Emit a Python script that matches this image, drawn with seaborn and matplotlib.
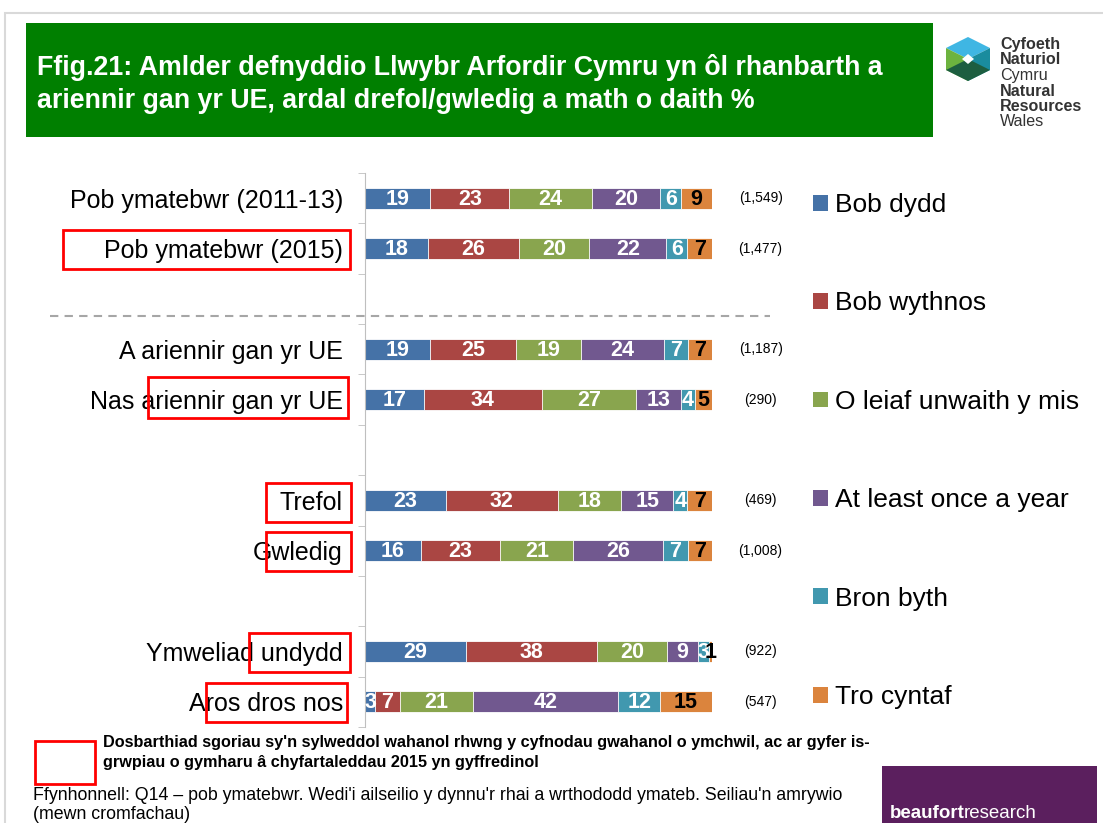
import pandas as pd
import seaborn as sns
import matplotlib.pyplot as plt
from matplotlib.patches import Rectangle, Polygon, Patch
from matplotlib.lines import Line2D

# Data
categories = ["Pob ymatebwr (2011-13)", "Pob ymatebwr (2015)",
              "A ariennir gan yr UE", "Nas ariennir gan yr UE",
              "Trefol", "Gwledig", "Ymweliad undydd", "Aros dros nos"]
series = ["Bob dydd", "Bob wythnos", "O leiaf unwaith y mis",
          "At least once a year", "Bron byth", "Tro cyntaf"]
bob_dydd = [19, 18, 19, 17, 23, 16, 29, 3]
bob_wythnos = [23, 26, 25, 34, 32, 23, 38, 7]
o_leiaf_mis = [24, 20, 19, 27, 18, 21, 20, 21]
once_a_year = [20, 22, 24, 13, 15, 26, 9, 42]
bron_byth = [6, 6, 7, 4, 4, 7, 3, 12]
tro_cyntaf = [9, 7, 7, 5, 7, 7, 1, 15]
bases = ["(1,549)", "(1,477)", "(1,187)", "(290)", "(469)", "(1,008)", "(922)", "(547)"]

colors = ["#4572A7", "#AA4643", "#89A54E", "#71588F", "#4198AF", "#DB843D"]

# slot order with gaps between groups
order = [categories[0], categories[1], " ", categories[2], categories[3], "  ",
         categories[4], categories[5], "   ", categories[6], categories[7]]

values = [bob_dydd, bob_wythnos, o_leiaf_mis, once_a_year, bron_byth, tro_cyntaf]
rows = []
for s, vals in zip(series, values):
    for c, v in zip(categories, vals):
        rows.append({"category": c, "series": s, "value": v})
df = pd.DataFrame(rows)
df["series"] = pd.Categorical(df["series"], series, ordered=True)
df = df.sort_values(["category", "series"])
df["share"] = df["value"] / df.groupby("category")["value"].transform("sum") * 100
df["end"] = df.groupby("category")["share"].cumsum()
df["start"] = df["end"] - df["share"]

plt.rcParams["font.family"] = ["Liberation Sans", "DejaVu Sans"]

W, H = 1103, 823
fig = plt.figure(figsize=(W / 100, H / 100), dpi=100)


def fx(x):
    return x / W


def fy(y):
    return 1 - y / H


ax = fig.add_axes([fx(365), fy(727), fx(712) - fx(365), fy(173) - fy(727)])

# stacked bars: draw cumulative layers from the back
for s, col in reversed(list(zip(series, colors))):
    sub = df[df["series"] == s]
    sns.barplot(data=sub, x="end", y="category", order=order, orient="h",
                color=col, saturation=1, width=0.42, ax=ax,
                edgecolor="white", linewidth=0.6)

# segment labels
for _, r in df.iterrows():
    yi = order.index(r["category"])
    tc = "black" if r["series"] == "Tro cyntaf" else "white"
    ax.text(r["start"] + r["share"] / 2, yi + 0.02, str(r["value"]), ha="center",
            va="center", color=tc, fontsize=15.5, fontweight="bold", clip_on=False)

# base sizes
for c, b in zip(categories, bases):
    ax.text(114, order.index(c), b, ha="center", va="center", fontsize=10,
            clip_on=False)

ax.set_xlim(0, 100)
ax.set_ylim(len(order) - 0.5, -0.5)
ax.set_xlabel("")
ax.set_ylabel("")
ax.xaxis.set_visible(False)
for sp in ["top", "right", "bottom"]:
    ax.spines[sp].set_visible(False)
ax.spines["left"].set_color("#BFBFBF")
ax.tick_params(axis="y", which="major", length=0, pad=16, labelsize=18)
ax.set_yticks(range(len(order)), minor=False)
ax.set_yticks([i - 0.5 for i in range(len(order) + 1)], minor=True)
ax.tick_params(axis="y", which="minor", length=5, color="#BFBFBF")
ax.patch.set_alpha(0)

# dashed separator
fig.add_artist(Line2D([fx(50), fx(770)], [fy(316), fy(316)], color="#A6A6A6",
                      lw=1.5, ls=(0, (4, 3))))

# legend
handles = [Patch(facecolor=c, edgecolor="none") for c in colors]
fig.legend(handles, series, loc="upper left", bbox_to_anchor=(fx(813), fy(193)),
           frameon=False, fontsize=19, labelspacing=2.82, handlelength=0.55,
           handleheight=0.55, handletextpad=0.3, borderpad=0, borderaxespad=0)

# slide border
fig.add_artist(Rectangle((fx(5), fy(830)), 1.0, fy(13) - fy(830), fill=False,
                         edgecolor="#D9D9D9", lw=1.5))

# title box
fig.add_artist(Rectangle((fx(26), fy(137)), fx(933) - fx(26), fy(23) - fy(137),
                         facecolor="#007F00", edgecolor="none"))
fig.text(fx(37), fy(75), "Ffig.21: Amlder defnyddio Llwybr Arfordir Cymru yn ôl rhanbarth a",
         color="white", fontsize=19.3, fontweight="bold", va="baseline")
fig.text(fx(37), fy(108), "ariennir gan yr UE, ardal drefol/gwledig a math o daith %",
         color="white", fontsize=19.3, fontweight="bold", va="baseline")

# NRW logo
pts = {"t": (968, 37), "ur": (990, 48), "lr": (990, 70), "b": (968, 81),
       "ll": (946, 70), "ul": (946, 48), "c": (968, 59)}
faces = [(["t", "ur", "c", "ul"], "#3FB6E3"),
         (["ur", "lr", "b", "c"], "#1A8C9E"),
         (["ul", "c", "b", "ll"], "#6DB33F"),
         (["c", "lr", "b", "ll"], "#1D5E40")]
for keys, col in faces:
    fig.add_artist(Polygon([(fx(pts[k][0]), fy(pts[k][1])) for k in keys],
                           closed=True, facecolor=col, edgecolor="none"))
fig.add_artist(Polygon([(fx(968), fy(54)), (fx(974), fy(59)), (fx(968), fy(64)),
                        (fx(962), fy(59))], closed=True, facecolor="white",
                       edgecolor="none"))
logo_lines = [("Cyfoeth", "bold"), ("Naturiol", "bold"), ("Cymru", "normal"),
              ("Natural", "bold"), ("Resources", "bold"), ("Wales", "normal")]
for i, (t, w) in enumerate(logo_lines):
    fig.text(fx(1000), fy(49 + i * 15.5), t, fontsize=11.6, fontweight=w,
             color="#333333", va="baseline")

# highlight boxes
boxes = [(63, 230, 350, 269), (148, 377, 348, 418), (266, 483, 351, 522),
         (266, 532, 351, 571), (249, 633, 350, 672), (206, 683, 347, 722),
         (35, 741, 95, 784)]
for x0, y0, x1, y1 in boxes:
    fig.add_artist(Rectangle((fx(x0), fy(y1)), fx(x1) - fx(x0), fy(y0) - fy(y1),
                             fill=False, edgecolor="#FF0000", lw=2))

# footer notes
fig.text(fx(103), fy(747), "Dosbarthiad sgoriau sy'n sylweddol wahanol rhwng y cyfnodau gwahanol o ymchwil, ac ar gyfer is-",
         fontsize=11.7, fontweight="bold", va="baseline")
fig.text(fx(103), fy(767), "grwpiau o gymharu â chyfartaleddau 2015 yn gyffredinol",
         fontsize=11.7, fontweight="bold", va="baseline")
fig.text(fx(33), fy(800), "Ffynhonnell: Q14 – pob ymatebwr. Wedi'i ailseilio y dynnu'r rhai a wrthododd ymateb. Seiliau'n amrywio",
         fontsize=12.8, va="baseline")
fig.text(fx(33), fy(819), "(mewn cromfachau)", fontsize=12.8, va="baseline")

# beaufort logo
fig.add_artist(Rectangle((fx(882), fy(830)), fx(1097) - fx(882), fy(766) - fy(830),
                         facecolor="#5B1F5E", edgecolor="none"))
fig.text(fx(890), fy(818), "beaufort", color="white", fontsize=13.5,
         fontweight="bold", va="baseline")
fig.text(fx(964), fy(818), "research", color="white", fontsize=13.5, va="baseline")

plt.savefig("out.png", dpi=100)
plt.close()
